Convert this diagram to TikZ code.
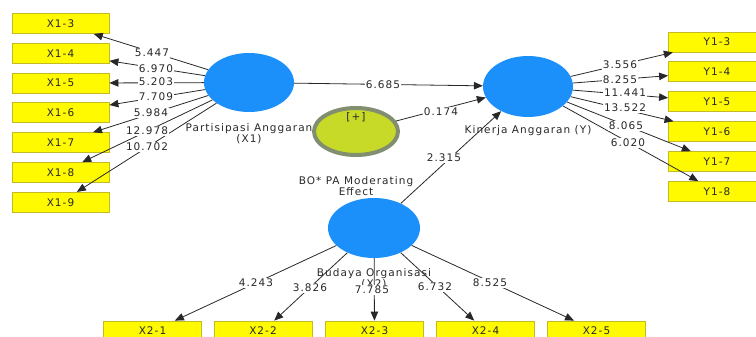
\documentclass[tikz,border=0pt]{standalone}
\usepackage{fontspec}
\setmainfont{DejaVu Sans}[LetterSpace=10]
\usetikzlibrary{shapes.geometric,arrows.meta}
\definecolor{lvblue}{RGB}{28,144,250}
\definecolor{boxyellow}{RGB}{255,250,0}
\definecolor{boxedge}{RGB}{196,186,40}
\definecolor{modfill}{RGB}{200,218,40}
\definecolor{modedge}{RGB}{130,142,112}
\definecolor{lncol}{RGB}{40,40,40}
\definecolor{txt}{RGB}{40,40,40}
\tikzset{
 ind/.style={rectangle, fill=boxyellow, draw=boxedge, line width=0.8pt, minimum width=97pt, minimum height=20pt, inner sep=0pt, text=txt},
 lv/.style={ellipse, fill=lvblue, draw=none, inner sep=0pt},
 modlv/.style={ellipse, fill=modfill, draw=modedge, line width=4pt, inner sep=0pt},
 conn/.style={draw=lncol, line width=0.8pt, -{Triangle[length=9pt,width=7.5pt]}},
 val/.style={fill=white, inner sep=0.8pt, text=txt},
 captxt/.style={align=center, text=txt, inner sep=0pt},
}
\begin{document}
\begin{tikzpicture}[x=1pt,y=-1pt,font=\fontsize{10.5}{11}\selectfont]
\useasboundingbox (0,0) rectangle (756,337);
\clip (0,0) rectangle (756,337);
% latent variables
\node[lv, minimum width=90pt, minimum height=59pt] (x1) at (249,82.5) {};
\node[lv, minimum width=90pt, minimum height=61pt] (y) at (528,86.5) {};
\node[lv, minimum width=92pt, minimum height=60pt] (x2) at (374,228) {};
\node[modlv, minimum width=84pt, minimum height=47pt] (mod) at (356,131.5) {};
% indicators X1
\node[ind] (x13) at (60.5,23.5) {X1-3};
\node[ind] (x14) at (60.5,53.3) {X1-4};
\node[ind] (x15) at (60.5,83.1) {X1-5};
\node[ind] (x16) at (60.5,112.9) {X1-6};
\node[ind] (x17) at (60.5,142.7) {X1-7};
\node[ind] (x18) at (60.5,172.5) {X1-8};
\node[ind] (x19) at (60.5,202.3) {X1-9};
% indicators Y
\node[ind] (y13) at (717,42) {Y1-3};
\node[ind] (y14) at (717,71.9) {Y1-4};
\node[ind] (y15) at (717,101.8) {Y1-5};
\node[ind] (y16) at (717,131.7) {Y1-6};
\node[ind] (y17) at (717,161.6) {Y1-7};
\node[ind] (y18) at (717,191.5) {Y1-8};
% indicators X2
\node[ind, minimum width=98pt] (x21) at (152.5,331) {X2-1};
\node[ind, minimum width=98pt] (x22) at (263,331) {X2-2};
\node[ind, minimum width=98pt] (x23) at (374.5,331) {X2-3};
\node[ind, minimum width=98pt] (x24) at (485.5,331) {X2-4};
\node[ind, minimum width=98pt] (x25) at (596.5,331) {X2-5};
% connectors
\foreach \t in {x13,x14,x15,x16,x17,x18,x19} \draw[conn] (x1) -- (\t);
\foreach \t in {y13,y14,y15,y16,y17,y18} \draw[conn] (y) -- (\t);
\foreach \t in {x21,x22,x23,x24,x25} \draw[conn] (x2) -- (\t);
\draw[conn] (x1) -- (y);
\draw[conn] (mod) -- (y);
\draw[conn] (x2) -- (y);
% captions
\node[captxt] (cx1) at (249,133.5) {Partisipasi Anggaran\\(X1)};
\node[captxt] (cy) at (528,131) {Kinerja Anggaran (Y)};
\node[captxt] (cmod) at (356,186.5) {BO* PA Moderating\\Effect};
\node[captxt] (cx2) at (374,278.5) {Budaya Organisasi\\(X2)};
\node[captxt] (plus) at (356,117) {[+]};
% values
\node[val] (v1) at (152,53) {5.447};
\node[val] (v2) at (156,69) {6.970};
\node[val] (v3) at (156,82) {5.203};
\node[val] (v4) at (156,97) {7.709};
\node[val] (v5) at (151,113) {5.984};
\node[val] (v6) at (147,131) {12.978};
\node[val] (v7) at (147,147) {10.702};
\node[val] (v8) at (383,85) {6.685};
\node[val] (v9) at (441,112) {0.174};
\node[val] (v10) at (444,158) {2.315};
\node[val] (v11) at (620,65) {3.556};
\node[val] (v12) at (620,80) {8.255};
\node[val] (v13) at (625,93) {11.441};
\node[val] (v14) at (625,108) {13.522};
\node[val] (v15) at (626,126) {8.065};
\node[val] (v16) at (628,143) {6.020};
\node[val] (v17) at (256,283) {4.243};
\node[val] (v18) at (310,288) {3.826};
\node[val] (v19) at (372,290) {7.785};
\node[val] (v20) at (435,287) {6.732};
\node[val] (v21) at (490,283) {8.525};
\end{tikzpicture}
\end{document}
